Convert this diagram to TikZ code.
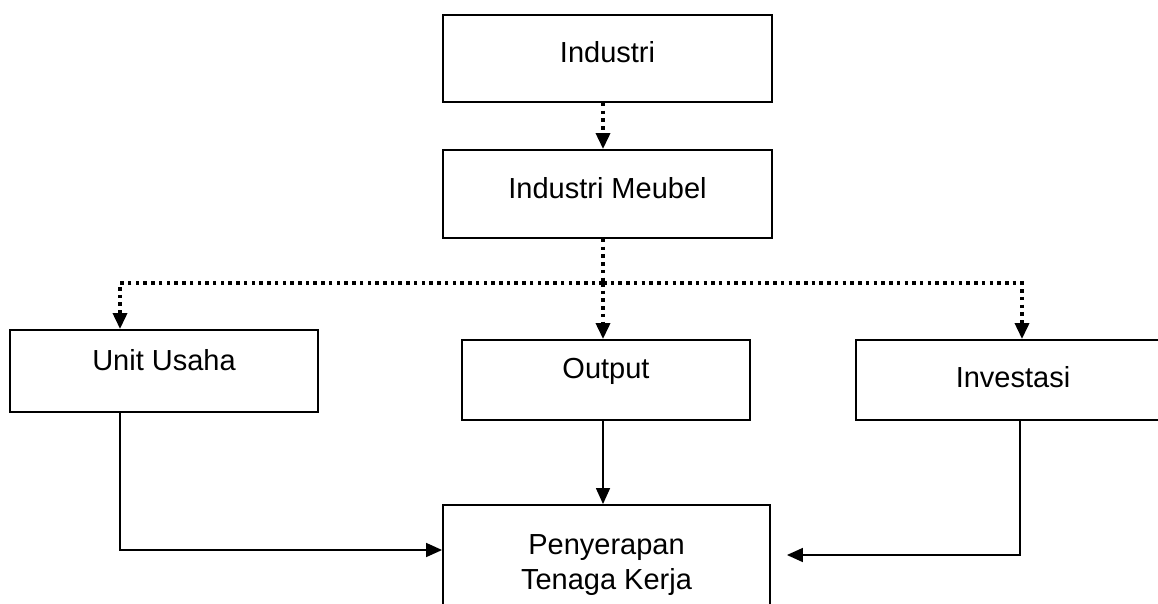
\documentclass[tikz,border=0pt]{standalone}
\usepackage{fontspec}
\setmainfont{Liberation Sans}
\usetikzlibrary{arrows.meta,positioning}
\tikzset{arr/.style={-{Triangle[length=3.2mm,width=2.8mm]},line width=0.9pt,draw=black},
  dotline/.style={line width=2pt,dash pattern=on 2pt off 2.4pt},
  dotarr/.style={dotline,-{Triangle[length=3.2mm,width=2.8mm]}},
  box/.style={draw,line width=1.1pt,align=center,inner sep=4pt,
    font=\fontsize{16.5}{19.5}\selectfont}}

\begin{document}
\begin{tikzpicture}[x=0.02cm,y=-0.02cm]
\useasboundingbox (0,0) rectangle (1158,604);
\node[box,minimum width=6.58cm,minimum height=1.74cm,text depth=0.24cm] (industri) at (607.5,58.5) {Industri};
\node[box,minimum width=6.58cm,minimum height=1.76cm,text depth=0.24cm] (meubel) at (607.5,194) {Industri Meubel};
\node[box,minimum width=6.16cm,minimum height=1.64cm,text depth=0.44cm] (unit) at (164,371) {Unit Usaha};
\node[box,minimum width=5.76cm,minimum height=1.6cm,text depth=0.48cm] (output) at (606,380) {Output};
\node[box,minimum width=6.28cm,minimum height=1.6cm,text depth=0.12cm] (invest) at (1013,380) {Investasi};
\node[box,minimum width=6.54cm,minimum height=2.4cm] (serap) at (606.5,565) {Penyerapan\\Tenaga Kerja};
\coordinate (fork) at (603,283);
\draw[dotarr] (industri.south -| fork) -- (meubel.north -| fork);
\draw[dotline] (meubel.south -| fork) -- (fork);
\draw[dotarr] (fork) -| ([xshift=-0.88cm]unit.north);
\draw[dotarr] (fork) -- (fork |- output.north);
\draw[dotarr] (fork) -| ([xshift=0.18cm]invest.north);
\draw[arr] ([xshift=-0.88cm]unit.south) |- ([yshift=0.3cm]serap.west);
\draw[arr] (output.south -| fork) -- (serap.north -| fork);
\draw[arr,shorten >=0.32cm] ([xshift=0.14cm]invest.south) |- ([yshift=0.2cm]serap.east);
\end{tikzpicture}
\end{document}
